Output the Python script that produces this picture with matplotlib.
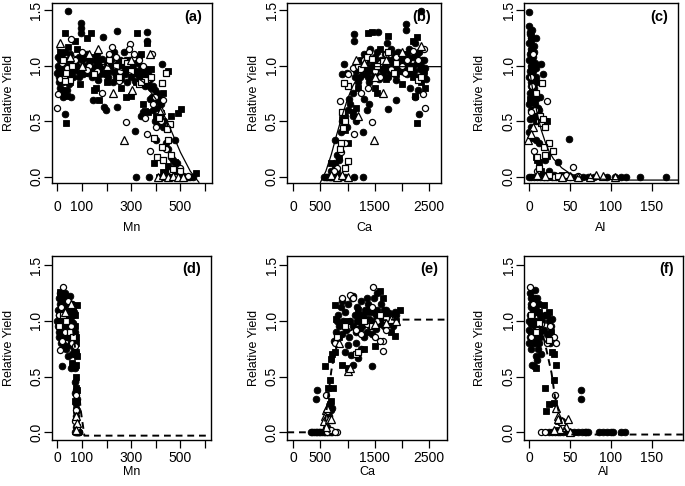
import matplotlib
matplotlib.use("Agg")
import matplotlib.pyplot as plt

plt.rcParams['font.family'] = ['Liberation Sans', 'DejaVu Sans']

W, H = 685, 486

# ---------------- data ----------------
# Panel (a): Mn
a_fc = [(0,0.93),(3,1.0),(5,0.9),(8,0.85),(10,1.05),(12,0.8),(15,0.75),(18,1.1),(20,0.95),(22,0.72),(25,1.0),(28,0.88),(30,0.56),(33,1.12),(35,0.98),(38,0.78),(40,1.05),(44,1.49),(45,0.92),(48,0.83),(50,1.1),(55,0.72),(58,0.98),(60,1.02),
        (80,1.0),(85,0.95),(90,1.08),(95,0.98),(97,1.38),(97,1.34),(97,1.29),(100,1.05),(105,0.92),(110,1.0),(115,0.97),(120,1.1),(125,0.93),(130,1.03),(135,0.99),(140,0.9),(144,0.69),(150,1.05),(155,0.95),(160,1.1),(165,0.87),(170,1.0),(175,0.92),(180,1.06),(187,1.26),(190,0.97),(191,0.63),(197,0.6),(200,1.02),
        (205,0.9),(210,1.08),(215,0.95),(220,1.0),(225,0.85),(230,1.12),(235,0.93),(240,1.0),(244,1.31),(244,0.63),(250,0.95),(255,1.05),(260,0.88),(265,1.0),(270,1.12),(275,0.92),(280,0.98),(285,0.85),(290,1.05),(295,0.95),(300,0.9),(305,1.0),(310,0.93),(315,0.86),(317,0.41),(320,0.0),(325,0.95),(330,1.08),(335,0.88),(340,0.55),(345,0.93),(350,0.58),(355,0.9),(360,0.97),(364,1.22),(364,1.30),(370,0.85),(371,0.0),(375,0.7),(380,0.8),
        (385,0.72),(390,0.6),(395,0.5),(400,0.33),(405,0.75),(410,0.68),(415,0.5),(420,0.65),(424,1.01),(430,0.45),(435,0.5),(440,0.3),(444,0.0),(450,0.25),(455,0.05),(460,0.18),(465,0.02),(470,0.15),(477,0.33),(480,0.0),(485,0.12),(490,0.02),(495,0.0),(500,0.0),(505,0.0),(510,0.01),(520,0.0),(530,0.0),(540,0.0),(550,0.0),(420,0.0),(430,0.0),(440,0.02),(460,0.0),(470,0.0),
        (2,1.08),(6,0.97),(14,0.92),(24,0.85),(32,1.03),(42,0.95),(52,1.0),(65,0.9),(70,0.98),(75,1.05),(88,0.9),(102,0.98),(112,1.08),(128,0.97),(138,1.06),(148,0.93),(158,1.0),(168,1.05),(178,0.97),(195,0.92),(208,1.0),(218,1.05),(228,0.97),(238,0.9),(248,1.02),(258,0.97),(268,0.93),(278,1.05),(288,0.95),(298,1.0),(308,0.97),(318,1.02),(328,0.92),(338,1.0),(348,0.95),(358,0.82),(368,0.93),(378,0.88),(388,0.82),(398,0.78),(408,0.62),(418,0.7)]
a_fs = [(31,1.29),(44,1.17),(37,0.48),(71,1.22),(120,1.25),(137,1.29),(324,1.29),(364,1.2),(91,0.83),(157,0.8),(171,0.69),(357,0.59),(391,0.12),(491,0.57),(501,0.61),(564,0.03),(10,1.12),(20,0.78),(25,0.75),(40,0.73),(60,0.95),(110,0.93),(150,0.78),(200,0.85),(230,0.96),(260,0.8),(280,0.72),(300,0.73),(320,0.85),(340,0.93),(350,0.65),(370,0.58),(400,0.55),(410,0.47),(420,0.57),(430,0.75),(440,0.93),(450,0.95),(415,0.0),(430,0.04),(450,0.1),(470,0.02),(480,0.13),(460,0.55),(380,0.97),(340,1.1),(260,1.03),(150,1.08),(80,1.15),(50,0.85)]
a_oc = [(0,0.62),(4,0.74),(277,0.49),(357,0.53),(364,0.38),(377,0.23),(431,0.69),(397,0.72),(297,1.19),(224,1.17),(57,1.24),(384,1.1),(417,0.54),(10,0.88),(20,1.02),(30,0.9),(40,0.98),(70,1.05),(100,1.12),(130,1.0),(160,0.95),(180,0.75),(210,1.1),(240,1.08),(255,0.95),(290,1.15),(310,1.1),(330,1.05),(350,1.0),(370,0.88),(390,0.65),(400,0.45),(420,0.5),(440,0.25),(460,0.05),(480,0.0),(500,0.08),(520,0.0),(530,0.01),(250,0.86),(120,0.96)]
a_os = [(51,0.87),(37,0.93),(251,0.9),(271,1.04),(357,0.87),(427,0.84),(411,0.53),(424,0.27),(457,0.47),(451,0.33),(404,0.18),(431,0.15),(391,0.35),(30,0.86),(60,1.0),(150,0.92),(210,1.05),(240,1.0),(285,1.02),(300,0.95),(330,0.83),(340,0.85),(380,0.9),(440,0.93),(460,0.2),(445,0.43),(470,0.07),(500,0.05),(25,1.05)]
a_ot = [(11,1.2),(271,0.33),(304,0.78),(164,1.15),(377,1.1),(225,0.75),(100,1.0),(50,1.08),(130,1.1),(200,1.0),(410,0.0),(430,0.02),(450,0.0),(470,0.01),(490,0.0),(510,0.0),(420,0.6),(300,1.05)]
a_curve_x = [0, 50, 100, 200, 300, 350, 400, 450, 500, 540, 575]
a_curve_y = [1.15, 1.1, 1.06, 1.0, 0.93, 0.85, 0.7, 0.48, 0.22, 0.05, -0.05]

# Panel (b): Ca
b_fc = [(560,0),(600,0),(620,0),(650,0),(680,0),(700,0),(720,0),(750,0),(780,0),(800,0),(830,0),(860,0),(900,0),(950,0),(1110,0),(1280,0),
        (700,0.05),(760,0.12),(770,0.33),(800,0.2),(850,0.15),(880,0.4),(900,0.5),(950,0.55),(980,0.45),(1000,0.6),(1020,0.7),(1050,0.65),(1100,0.55),(1150,0.5),(1100,0.75),(1130,0.9),(1150,0.95),(933,1.01),(900,0.92),(980,0.93),
        (1110,1.28),(1110,1.22),(2080,1.37),(2080,1.32),(2350,1.49),(1555,1.3),(2317,0.56),(1738,0.61),(1890,0.69),(1293,0.4),
        (1200,0.85),(1250,1.0),(1280,0.92),(1300,1.1),(1350,0.95),(1380,1.05),(1400,0.85),(1420,1.15),(1450,1.0),(1480,0.9),(1500,1.08),(1520,0.97),(1550,1.12),(1580,0.88),(1600,1.0),(1620,1.05),(1650,0.93),(1680,1.1),(1700,0.98),(1720,1.2),(1750,0.9),(1780,1.03),(1800,1.15),(1820,0.95),(1850,1.07),(1880,1.0),(1900,0.87),(1920,1.12),(1950,1.02),(1980,0.95),(2000,1.1),(2030,1.0),(2060,1.05),(2100,0.92),(2130,1.15),(2160,1.0),(2200,1.08),(2230,0.95),(2250,1.2),(2280,1.02),(2300,0.9),(2320,1.12),(2350,1.0),(2380,0.93),(2400,1.05),(2420,0.98),(2440,0.88),(2250,0.72),(2300,0.78),(2150,0.8),(1300,0.7),(1350,0.6),(1400,0.65),
        (1180,0.97),(1230,0.9),(1330,1.0),(1370,0.9),(1430,0.95),(1470,1.05),(1530,0.92),(1570,1.02),(1630,0.97),(1670,1.0),(1730,1.05),(1770,0.95),(1830,1.0),(1870,1.1),(1930,0.97),(1970,1.05),(2010,0.95),(2070,1.0),(2120,1.05),(2170,0.93),(2210,1.0),(2270,1.1),(2330,0.97),(2370,1.05),(2410,0.9)]
b_fs = [(2287,0.48),(1380,1.29),(1450,1.3),(1750,1.27),(2200,1.22),(2280,1.26),(1100,0.58),(1150,0.62),(900,0.52),(950,0.42),(800,0.05),(850,0.18),(1000,0.3),(1200,0.8),(1300,0.93),(1500,0.8),(1550,0.75),(1700,0.88),(1900,0.92),(2000,0.83),(2100,1.1),(2200,0.9),(2350,0.85),(2400,0.95),(2430,0.8),(2250,0.73),(1800,1.05),(1600,1.15),(1250,1.05),(700,0.12),(760,0.08)]
b_oc = [(2427,0.62),(1451,0.49),(1116,0.38),(854,0.68),(2380,0.74),(1000,0.92),(1100,0.98),(1200,1.0),(1300,1.05),(1400,1.12),(1500,0.95),(1600,1.02),(1700,1.1),(1800,0.97),(1900,1.08),(2000,1.0),(2100,1.05),(2200,1.13),(2300,1.05),(2400,1.15),(1380,0.8),(1250,0.75),(950,0.3),(880,0.22),(800,0.08),(750,0.05),(1600,0.9),(2050,0.93)]
b_os = [(1006,0.82),(940,0.84),(900,0.58),(960,0.5),(920,0.44),(880,0.3),(860,0.25),(1000,0.14),(960,0.08),(1250,0.97),(1350,1.08),(1550,1.0),(1750,1.12),(1900,1.02),(2150,0.98),(2300,0.87),(2350,0.9),(1450,1.06),(1650,1.04),(1850,0.93)]
b_ot = [(1494,0.33),(1650,0.75),(1150,1.05),(1300,1.02),(1700,1.05),(2000,1.12),(2350,1.18),(700,0.02),(800,0.0),(900,0.02),(1000,0.0),(1200,0.55),(1500,0.9)]
b_curve_x = [500, 600, 700, 800, 900, 1000, 1100, 1200, 1300, 1400, 1500, 2720]
b_curve_y = [-0.05, 0.05, 0.2, 0.38, 0.55, 0.7, 0.82, 0.9, 0.95, 0.98, 0.99, 0.99]

# Panel (c): Al
c_fc = [(0,1.48),(0,1.36),(1,1.3),(2,1.25),(0,1.2),(3,1.15),(1,1.1),(4,1.05),(2,1.0),(5,0.95),(0,0.9),(3,0.85),(6,0.8),(1,0.75),(4,0.7),(7,0.65),(2,0.6),(5,0.55),(8,0.5),(1,1.28),(3,1.22),(6,1.18),(2,1.12),(5,1.08),(7,1.02),(8,0.98),(9,0.9),(10,0.85),(6,0.75),(9,0.7),(11,0.62),(3,0.45),(0,0.4),(2,0.35),(14.6,1.01),(17.5,0.92),(48.8,0.34),(35.8,0.13),(12,0.6),(13,0.72),(8,1.25),(4,1.32),
        (0,0),(3,0),(6,0),(10,0),(14,0),(18,0),(22,0),(28,0),(33,0),(38,0),(44,0),(50,0),(58,0),(66,0),(72,0),(80,0),(95,0),(105,0),(112,0),(119,0),(136,0),(168,0),
        (9,0.33),(12,0.3),(20,0.15),(25,0.05),(30,0.02),
        (0,1.05),(1,0.95),(2,0.82),(0,0.65),(3,0.68),(5,0.88),(6,1.12),(4,0.92),(7,0.85),(1,0.52)]
c_fs = [(21.5,0.5),(10,0.15),(22,0.19),(30,0.0),(5,0.6),(8,0.55),(10,0.5),(3,0.9),(6,1.0),(2,1.27),(9,0.18),(12,0.13),(15,0.05),(18,0.02),(25,0.0),(40,0.02),(20,0.5),(1,0.7),(4,0.78)]
c_oc = [(6.5,0.23),(21.5,0.68),(54,0.09),(12,0.5),(2,0.9),(5,1.1),(4,0.82),(7,0.6),(10,0.05),(30,0.0),(45,0.02),(60,0.01),(3,0.58)]
c_os = [(16.3,0.84),(15,0.48),(20,0.45),(24.8,0.3),(28.9,0.23),(20,0.2),(10,0.18),(12,0.08),(13,0.55),(18,0.27),(25,0.02),(35,0.01),(8,0.75),(17,0.52)]
c_ot = [(-1.6,0.33),(5,0.45),(82.5,0.015),(105,0.0),(75,0.0),(90,0.01),(60,0.0),(40,0.0),(2,0.38),(10,0.02),(20,0.01),(50,0.01)]
c_curve_x = [0, 3, 6, 10, 15, 20, 25, 30, 40, 50, 60, 80, 120, 182]
c_curve_y = [1.0, 0.85, 0.72, 0.57, 0.42, 0.31, 0.22, 0.16, 0.08, 0.03, 0.0, -0.02, -0.03, -0.03]

# Panel (d): Mn
d_fc = [(0,1.0),(2,0.95),(3,1.1),(5,0.9),(5,1.2),(7,1.05),(8,0.85),(10,1.15),(10,0.98),(12,1.25),(13,0.9),(15,1.05),(15,0.8),(17,1.18),(18,0.95),(20,1.1),(21,0.59),(22,0.88),(23,1.02),(25,1.22),(25,0.92),(27,1.08),(28,0.78),(30,1.0),(30,1.15),(32,0.85),(33,1.25),(35,0.95),(35,1.1),(37,0.75),(38,1.05),(40,1.2),(40,0.9),(42,1.0),(43,0.68),(45,1.12),(45,0.85),(47,0.95),(48,1.05),(50,1.22),(50,0.78),(52,0.92),(53,1.1),(55,0.58),(55,1.0),(57,0.82),(58,1.15),(60,0.95),(60,0.7),(62,1.05),(63,0.88),(65,0.6),(65,0.98),(67,0.75),(68,1.08),(70,0.58),(70,0.9),(72,0.45),(73,0.35),(75,0.25),(75,0.15),(77,0.05),(78,0.0),(80,0.0),(82,0.0),(85,0.0),(88,0.0),(90,0.0),(72,0.0),(76,0.38),(80,0.3),(79,0.2)]
d_fs = [(81,1.14),(75,0.7),(78,0.72),(80,0.68),(70,0.95),(72,1.05),(74,0.85),(76,0.6),(78,0.5),(76,0.4),(80,0.38),(72,0.28),(74,0.2),(78,0.12),(82,0.05),(10,1.26),(30,1.2),(50,1.15),(65,1.12),(60,0.62),(77,0.8)]
d_oc = [(24,1.3),(11,0.74),(75,0.33),(5,1.05),(20,0.82),(40,1.0),(45,1.18),(60,0.8),(30,0.9),(15,1.12),(55,0.95),(70,0.77),(78,0.2),(80,0.05),(73,0.1)]
d_os = [(8,0.95),(25,1.05),(50,0.9),(65,0.85),(35,1.0)]
d_ot = [(76,0.15),(80,0.08),(78,0.02),(30,1.08),(55,1.15)]
d_curve_x = [0, 60, 80, 95, 110, 623]
d_curve_y = [1.0, 1.0, 0.6, 0.2, -0.03, -0.03]

# Panel (e): Ca
e_fc = [(320,0),(350,0),(380,0),(410,0),(440,0),(470,0),(500,0),(530,0),(560,0),(590,0),(620,0),(650,0),(690,0),(720,0),
        (439,0.38),(427,0.3),(701,0.2),(650,0.15),(620,0.05),(680,0.25),(600,0.12),(720,0.22),
        (1445,0.59),(1100,0.6),(1060,0.69),(1200,0.67),
        (750,0.82),(780,0.9),(800,1.0),(820,1.05),(850,0.95),(870,1.12),(900,0.88),(920,1.0),(950,1.08),(980,0.92),(1000,1.15),(1020,0.85),(1050,1.0),(1080,1.2),(1100,0.95),(1130,1.05),(1150,0.9),(1180,1.12),(1200,1.0),(1230,0.93),(1250,1.18),(1280,1.05),(1300,0.97),(1320,1.1),(1350,0.9),(1380,1.15),(1400,1.02),(1420,0.95),(1450,1.08),(1480,1.2),(1500,1.0),(1520,0.93),(1550,1.1),(1580,1.03),(1600,0.98),(1620,1.15),(1650,1.05),(1680,0.95),(1700,1.1),(1730,1.0),(1760,1.07),(1800,0.98),(1830,1.05),(1860,1.02),(1900,1.05),(1000,0.78),(1150,0.8),(1300,0.85),(1450,0.88),(950,0.72),(1250,0.75),(1350,1.2),(1550,1.25),(1100,1.22),(900,1.18),
        (1170,1.0),(1210,1.05),(1270,0.95),(1330,1.02),(1370,1.08),(1430,1.0),(1470,0.95),(1530,1.05),(1570,0.97),(1630,1.02),(1670,1.1),(1720,0.97),(1780,1.05),(1840,0.95),(1880,1.08)]
e_fs = [(591,0.59),(700,0.66),(680,0.47),(740,0.4),(720,0.7),(760,0.72),(640,0.4),(700,0.28),(680,0.25),(1872,0.86),(1963,1.1),(1800,0.9),(760,1.14),(780,1.02),(900,0.6),(1000,0.58),(1300,0.75),(1500,0.77),(1600,1.27),(1650,1.2),(1750,1.0),(1900,1.0),(1400,1.1),(1200,1.1),(1000,1.0),(850,0.85)]
e_oc = [(598,0.33),(811,0.0),(1659,0.73),(1660,0.82),(1600,0.82),(1470,1.3),(760,0.8),(900,1.2),(1050,1.23),(1150,0.92),(1250,0.88),(1350,0.97),(1450,1.12),(1550,1.0),(1700,0.92),(1800,1.02),(1100,1.2),(620,0.0),(700,0.02),(760,0.0),(1500,0.85)]
e_os = [(800,0.85),(950,0.95),(1150,0.7),(1300,1.0),(1450,0.95),(1600,1.05),(1200,0.72),(1700,1.02)]
e_ot = [(600,0.2),(580,0.15),(560,0.1),(620,0.22),(600,0.05),(650,0.12),(1000,0.55),(1050,0.58),(1800,1.02),(1700,0.98),(1900,1.0),(1500,0.97),(850,0.8),(700,0.12)]
e_curve_x = [-110, 550, 600, 650, 700, 750, 800, 900, 1000, 1200, 1400, 1600, 1800, 2000, 2837]
e_curve_y = [0, 0, 0.15, 0.35, 0.55, 0.68, 0.77, 0.85, 0.9, 0.95, 0.98, 1.0, 1.01, 1.01, 1.01]

# Panel (f): Al
f_fc = [(0,1.0),(1,1.25),(2,0.9),(3,1.15),(4,1.05),(5,0.8),(6,1.2),(7,0.95),(8,1.1),(9,0.85),(10,1.0),(11,0.75),(12,1.15),(13,0.9),(14,1.05),(15,0.7),(2,0.75),(4,0.6),(6,0.59),(8,0.68),(10,0.65),(12,0.8),(1,0.85),(3,0.97),(5,1.08),(7,1.28),(9,1.18),(0,0.8),(2,1.12),(16,1.0),(18,0.92),(20,1.05),(22,0.88),(24,1.0),(25,0.85),(27,0.95),(28,1.02),(26,0.8),(63.4,0.38),(63.4,0.3),(40,0.1),
        (25,0),(28,0),(32,0),(35,0),(38,0),(42,0),(46,0),(50,0),(55,0),(60,0),(65,0),(68,0),(70,0),(72,0),(85,0),(90,0),(95,0),(100,0),(103,0),(113,0),(117,0),
        (1,1.05),(3,0.9),(5,1.0),(7,1.12),(9,0.95),(11,1.08),(13,1.0),(0,0.92),(4,0.85),(6,1.0),(8,0.8),(10,1.2),(14,0.85),(2,1.2)]
f_fs = [(18.7,1.14),(30,0.7),(28,0.72),(33,0.6),(30,0.47),(19.5,0.4),(20.3,0.19),(25,0.25),(30,0.26),(22,1.05),(25,1.08),(27,0.9),(5,0.98),(12,1.08),(9,0.58),(35,0.1),(36,0.02)]
f_oc = [(14.6,0),(31.7,0.33),(32.5,0.8),(30,0.85),(1,1.3),(5,1.15),(10,0.92),(3,0.85),(15,0.97),(22,0.8),(26,0.95),(20,0.0)]
f_os = [(8,0.9),(12,0.98),(25,0.83),(2,1.05)]
f_ot = [(33,0.22),(35,0.15),(40,0.1),(48,0.12),(38,0.03),(45,0.05),(30,0.02),(50,0.0),(36,0.12)]
f_curve_x = [0, 10, 15, 19.5, 27.6, 31.7, 40, 48, 55, 188]
f_curve_y = [1.0, 0.98, 0.92, 0.8, 0.53, 0.32, 0.08, -0.02, -0.02, -0.02]

panel_labels = ['(a)', '(b)', '(c)', '(d)', '(e)', '(f)']
x_names = ['Mn', 'Ca', 'Al', 'Mn', 'Ca', 'Al']
y_name = 'Relative Yield'
y_ticks = [0.0, 0.5, 1.0, 1.5]
y_ticklabels = ['0.0', '0.5', '1.0', '1.5']
mn_ticks = [0, 100, 200, 300, 400, 500, 600]
mn_labels = ['0', '100', '', '300', '', '500', '']
ca_ticks = [0, 500, 1000, 1500, 2000, 2500]
ca_labels = ['0', '500', '', '1500', '', '2500']
al_ticks = [0, 50, 100, 150]
al_labels = ['0', '50', '100', '150']

# ---------------- layout (pixel boxes) ----------------
fig = plt.figure(figsize=(W/100, H/100), dpi=100)

def add_ax(l, r, t, b):
    return fig.add_axes([l/W, 1 - b/H, (r - l)/W, (b - t)/H])

boxes = [(51.7, 211.7, 3.5, 183.3), (287.3, 440.7, 3.5, 183.3), (524, 677.7, 3.5, 183.3),
         (51.7, 210.7, 255.7, 440), (287.3, 447.3, 255.7, 440), (524, 683.3, 255.7, 440)]
xlims = [(-22.7, 627), (-110.5, 2715), (-6.1, 181.8), (-22.7, 623), (-110.5, 2837), (-6.1, 188.6)]
ylims = [(-0.059, 1.558)]*3 + [(-0.069, 1.583)]*3
ticks = [(mn_ticks, mn_labels), (ca_ticks, ca_labels), (al_ticks, al_labels)]*2
ylab_x = [9, 254, 480, 9, 254, 480]
xlab_y = [228, 228, 228, 472, 472, 472]
xpad = [6, 6, 6, 2, 2, 2]

data = [(a_fc, a_fs, a_oc, a_os, a_ot, a_curve_x, a_curve_y, '-'),
        (b_fc, b_fs, b_oc, b_os, b_ot, b_curve_x, b_curve_y, '-'),
        (c_fc, c_fs, c_oc, c_os, c_ot, c_curve_x, c_curve_y, '-'),
        (d_fc, d_fs, d_oc, d_os, d_ot, d_curve_x, d_curve_y, '--'),
        (e_fc, e_fs, e_oc, e_os, e_ot, e_curve_x, e_curve_y, '--'),
        (f_fc, f_fs, f_oc, f_os, f_ot, f_curve_x, f_curve_y, '--')]

def xy(pts):
    return [p[0] for p in pts], [p[1] for p in pts]

for i in range(6):
    l, r, t, b = boxes[i]
    ax = add_ax(l, r, t, b)
    fc, fs, oc, os_, ot, cx, cy, ls = data[i]
    if ls == '-':
        ax.plot(cx, cy, color='black', lw=0.9, zorder=5)
    else:
        ax.plot(cx, cy, color='black', lw=1.4, linestyle=(0, (3.5, 2.5)), zorder=5)
    x, y = xy(fc); ax.plot(x, y, 'o', ms=4.8, color='black', mec='black', mew=0.6, zorder=2)
    x, y = xy(fs); ax.plot(x, y, 's', ms=4.5, color='black', mec='black', mew=0.6, zorder=2)
    x, y = xy(oc); ax.plot(x, y, 'o', ms=4.4, mfc='white', mec='black', mew=0.9, zorder=3)
    x, y = xy(os_); ax.plot(x, y, 's', ms=4.6, mfc='white', mec='black', mew=0.9, zorder=3)
    x, y = xy(ot); ax.plot(x, y, '^', ms=5.2, mfc='white', mec='black', mew=0.9, zorder=3)

    ax.set_xlim(*xlims[i]); ax.set_ylim(*ylims[i])
    tk, tl = ticks[i]
    ax.set_xticks(tk); ax.set_xticklabels(tl)
    ax.set_yticks(y_ticks); ax.set_yticklabels(y_ticklabels, rotation=90, va='center')
    ax.tick_params(direction='out', length=6, width=0.9, labelsize=10, colors='black')
    ax.tick_params(axis='x', pad=xpad[i])
    ax.tick_params(axis='y', pad=0)
    for sp in ax.spines.values():
        sp.set_linewidth(1.0)
    ax.text(1 - 9.5/(r - l), 1 - 13.5/(b - t), panel_labels[i], transform=ax.transAxes,
            ha='right', va='center', fontsize=10.5, fontweight='bold')
    cyc = (t + b) / 2
    fig.text(ylab_x[i]/W, 1 - cyc/H, y_name, rotation=90, ha='center', va='center', fontsize=9)
    fig.text((l + r)/2/W, 1 - xlab_y[i]/H, x_names[i], ha='center', va='center', fontsize=9)

fig.savefig('out.png', dpi=100)
